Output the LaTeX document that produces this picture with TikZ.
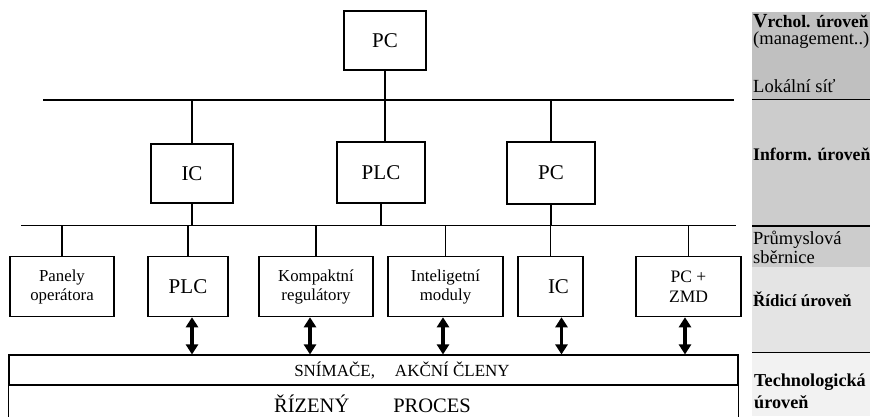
\documentclass[tikz,border=0pt]{standalone}
\usepackage{fontspec}
\setmainfont{Liberation Serif}
\usetikzlibrary{arrows.meta}
\definecolor{toplevel}{RGB}{192,192,192}
\definecolor{infolevel}{RGB}{204,204,204}
\definecolor{ctrllevel}{RGB}{228,228,228}
\definecolor{techlevel}{RGB}{242,242,242}
\begin{document}
\begin{tikzpicture}[x=1pt,y=-1pt,
  box/.style={draw, line width=1.1pt, inner sep=0pt, align=center, minimum height=60pt, minimum width=#1},
  big/.style={font=\fontsize{21}{21}\selectfont},
  small/.style={font=\fontsize{16.8}{19}\selectfont},
  bus/.style={line width=1.1pt},
  biarrow/.style={line width=3.5pt, {Triangle[width=12pt,length=10pt]}-{Triangle[width=12pt,length=10pt]}},
  lvl/.style={anchor=base west, inner sep=0pt, font=\fontsize{18.5}{19}\selectfont},
  lvlb/.style={lvl, font=\fontsize{17.5}{19}\selectfont\bfseries}]
	\useasboundingbox (0,0) rectangle (870,416);
	\clip (0,0) rectangle (870,416);

	% levels on the right
	\fill[toplevel] (752,12) rectangle (870,99);
	\fill[infolevel] (752,99) rectangle (870,267);
	\fill[ctrllevel] (752,267) rectangle (870,352);
	\fill[techlevel] (752,352) rectangle (870,416);
	\coordinate (lvl1) at (752,99);
	\coordinate (lvl2) at (752,225.5);
	\coordinate (lvl3) at (752,352);
	\draw[line width=0.9pt] (lvl1) -- ++(118,0);
	\draw[line width=2pt] (lvl2) -- ++(118,0);
	\draw[line width=0.9pt] (lvl3) -- ++(118,0);
	\node[lvlb] (vrchol) at (753,27) {{\fontsize{20}{20}\selectfont V}rchol. úroveň};
	\node[lvl] (mgmt) at (753,44) {(management..)};
	\node[lvl] (lan) at (753,92) {Lokální síť};
	\node[lvlb, font=\fontsize{17.7}{19}\selectfont\bfseries] (inform) at (753,160) {Inform. úroveň};
	\node[lvl] (prum) at (753,244) {Průmyslová};
	\node[lvl] (sber) at (753,263) {sběrnice};
	\node[lvlb, font=\fontsize{17}{19}\selectfont\bfseries] (ridici) at (753,306) {Řídicí úroveň};
	\node[lvlb, font=\fontsize{18.2}{19}\selectfont\bfseries] (tech) at (754,386) {Technologická};
	\node[lvlb, font=\fontsize{18.2}{19}\selectfont\bfseries] (techb) at (754,408) {úroveň};

	% buses
	\coordinate (lan w) at (43,100);
	\coordinate (lan e) at (734,100);
	\coordinate (fb w) at (21,225.5);
	\coordinate (fb e) at (736,225.5);
	\draw[bus] (lan w) -- (lan e);
	\draw[bus] (fb w) -- (fb e);

	% upper levels
	\node[box=82pt, big, minimum height=59pt] (pc) at (385,40.5) {PC};
	\node[box=82pt, big, minimum height=59pt] (ic) at (192,173.5) {IC};
	\node[box=88pt, big, minimum height=61pt] (plc) at (381,172.5) {PLC};
	\node[box=88pt, big, minimum height=62pt] (pcb) at (551,173) {PC};

	\draw[bus] (pc.south) -- (pc.south |- plc.north);
	\draw[bus] (ic.north) -- (ic.north |- lan w);
	\draw[bus] (pcb.north) -- (pcb.north |- lan w);
	\draw[bus] (ic.south) -- (ic.south |- fb w);
	\draw[bus] (plc.south) -- (plc.south |- fb w);
	\draw[bus] (pcb.south) -- (pcb.south |- fb w);

	% control level
	\node[box=104pt, small] (panel) at (62,286.7) {Panely\\operátora};
	\node[box=80pt, big] (plcd) at (188,286.7) {PLC};
	\node[box=114pt, small] (komp) at (316,286.7) {Kompaktní\\regulátory};
	\node[box=115pt, small] (intel) at (445.5,286.7) {Inteligetní\\moduly};
	\node[box=65pt, big] (icd) at (550.5,286.7) {\hspace*{16pt}IC};
	\node[box=105pt, font=\fontsize{17.5}{20}\selectfont] (pczmd) at (688.5,286.7) {PC +\\ZMD};

	\foreach \n in {panel,plcd,komp,intel,icd,pczmd}{
		\draw[bus] (\n.north) -- (\n.north |- fb w);
	};

	% process
	\node[draw, line width=1.1pt, minimum width=729pt, minimum height=30pt, inner sep=0pt] (band) at (373.5,370) {};
	\draw[bus] (band.south west) -- ++(0,40);
	\draw[bus] (band.south east) -- ++(0,40);
	\node[font=\fontsize{17}{17}\selectfont] (akt) at (402,370) {SNÍMAČE,\hspace{20pt}AKČNÍ ČLENY};
	\node[anchor=base, inner sep=0pt, font=\fontsize{20.5}{21}\selectfont] (proc) at (372.5,412) {ŘÍZENÝ\hspace{44pt}PROCES};

	\foreach \n/\d in {plcd/4,komp/-6,intel/-2.5,icd/11,pczmd/-3.5}{
		\draw[biarrow] ([xshift=\d pt]\n.south) -- ([xshift=\d pt]\n.south |- band.north);
	};
\end{tikzpicture}
\end{document}
